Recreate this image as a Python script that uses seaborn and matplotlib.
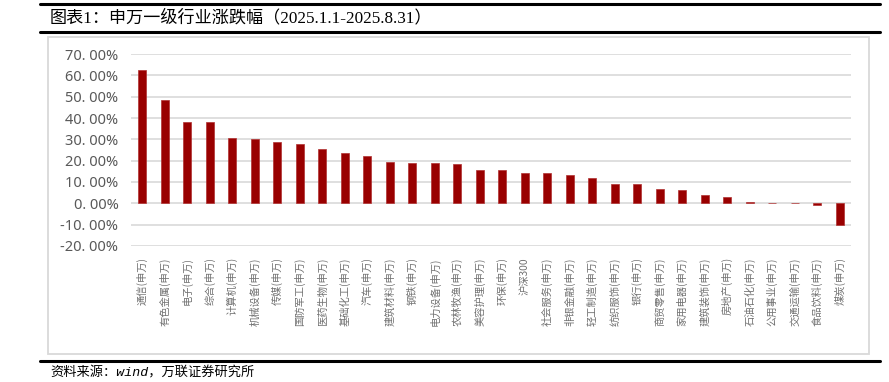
import matplotlib
matplotlib.use("Agg")
import matplotlib.pyplot as plt
from matplotlib.lines import Line2D
from matplotlib.patches import Rectangle
import seaborn as sns
import pandas as pd

industries = ["通信(申万)", "有色金属(申万)", "电子(申万)", "综合(申万)", "计算机(申万)",
              "机械设备(申万)", "传媒(申万)", "国防军工(申万)", "医药生物(申万)", "基础化工(申万)",
              "汽车(申万)", "建筑材料(申万)", "钢铁(申万)", "电力设备(申万)", "农林牧渔(申万)",
              "美容护理(申万)", "环保(申万)", "沪深300", "社会服务(申万)", "非银金融(申万)",
              "轻工制造(申万)", "纺织服饰(申万)", "银行(申万)", "商贸零售(申万)", "家用电器(申万)",
              "建筑装饰(申万)", "房地产(申万)", "石油石化(申万)", "公用事业(申万)", "交通运输(申万)",
              "食品饮料(申万)", "煤炭(申万)"]
changes = [62.3, 48.3, 38.2, 38.2, 30.5, 30.0, 28.8, 27.8, 25.6, 23.8,
           22.0, 19.5, 18.7, 18.7, 18.6, 15.7, 15.4, 14.3, 14.3, 13.5,
           11.9, 9.2, 9.2, 6.5, 6.2, 4.0, 3.2, 0.6, 0.3, 0.3,
           -1.0, -10.2]
yticks = [-20, -10, 0, 10, 20, 30, 40, 50, 60, 70]

title = "图表1：申万一级行业涨跌幅（2025.1.1-2025.8.31）"
source = "资料来源：wind，万联证券研究所"

sns.set_theme(style="white")
plt.rcParams['font.family'] = ['Noto Sans CJK SC', 'DejaVu Sans']

df = pd.DataFrame({"industry": industries, "change": changes})

fig = plt.figure(figsize=(8.89, 3.82), dpi=100)
W, H = 889, 382
ax = fig.add_axes([131 / W, 1 - 246 / H, 720 / W, 192 / H])

sns.barplot(data=df, x="industry", y="change", color="#990000", saturation=1,
            width=0.36, ax=ax, zorder=3, edgecolor="#b03030", linewidth=0.5)

ax.set_xlim(-0.5, len(industries) - 0.5)
ax.set_ylim(-20, 70)
ax.set_yticks(yticks)
ax.set_yticklabels([f"{v:.2f}%".replace(".", ". ") for v in yticks],
                   color="#595959", fontsize=10.5, family=['Noto Sans', 'Noto Sans CJK SC'])
ax.set_xlabel("")
ax.set_ylabel("")
ax.set_xticks(range(len(industries)))
ax.set_xticklabels(industries, rotation=90, ha="center", va="top",
                   fontsize=7.4, color="#707070")
ax.tick_params(axis="x", length=0, pad=8)
ax.tick_params(axis="y", length=0, pad=9)
for s in ax.spines.values():
    s.set_visible(False)
ax.grid(False)
for v in yticks:
    ax.axhline(v, color="#d9d9d9", lw=1.2, zorder=1)

# frame decorations
def hline(y, x0, x1, lw, color):
    fig.add_artist(Line2D([x0 / W, x1 / W], [1 - y / H, 1 - y / H], color=color, lw=lw,
                          transform=fig.transFigure))

hline(4, 40, 880, 2.2, "black")
hline(31.5, 40, 880, 2.2, "black")
hline(361, 40, 880, 2.2, "black")
fig.add_artist(Rectangle((48 / W, 1 - 354 / H), (869 - 48) / W, (354 - 37) / H,
                         fill=False, edgecolor="#d9d9d9", lw=1.3, transform=fig.transFigure))

fig.text(50 / W, 1 - 18 / H, title, fontsize=12.3, va="center", ha="left", color="black",
         family=['Liberation Serif', 'Noto Sans CJK SC'])
fig.text(50 / W, 1 - 373 / H, source, fontsize=9.5, va="center", ha="left", color="black",
         style="italic", family=['Liberation Mono', 'Noto Sans CJK SC'])

fig.savefig("out.png", dpi=100)
